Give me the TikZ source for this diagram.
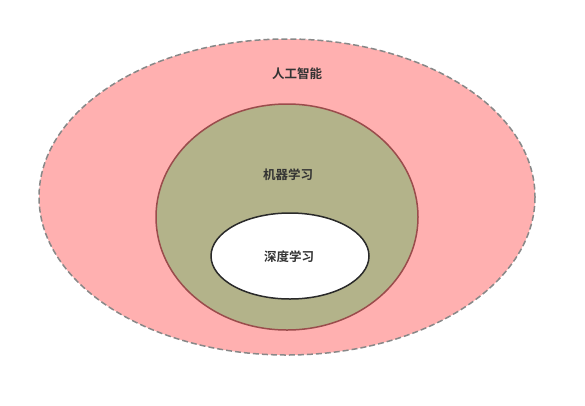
\documentclass[tikz,border=0pt]{standalone}
\usepackage{fontspec}
\newfontfamily\cjk{Noto Sans CJK SC}[BoldFont={Noto Sans CJK SC Bold}]
\definecolor{outerfill}{HTML}{FFB0B0}
\definecolor{outerline}{HTML}{888888}
\definecolor{midfill}{HTML}{B3B38A}
\definecolor{midline}{HTML}{9A4C4C}
\definecolor{innerline}{HTML}{2A2A2A}
\definecolor{txt}{HTML}{333333}
\tikzset{
  lbl/.style={font=\cjk\bfseries\fontsize{12.5}{14}\selectfont, text=txt, inner sep=0pt},
  ring/.style={line width=1.5pt}
}
\begin{document}
\begin{tikzpicture}[x=1pt,y=-1pt]
\useasboundingbox (0,0) rectangle (585,405);
\path[ring, draw=outerline, fill=outerfill, dash pattern=on 6pt off 3pt] (287,197) ellipse [x radius=248, y radius=158];
\path[ring, draw=midline, fill=midfill] (287,217) ellipse [x radius=131, y radius=113];
\path[ring, draw=innerline, fill=white] (290,256) ellipse [x radius=79, y radius=43];
\node[lbl] (ai) at (297,74) {人工智能};
\node[lbl] (ml) at (288,175) {机器学习};
\node[lbl] (dl) at (289,257) {深度学习};
\end{tikzpicture}
\end{document}
